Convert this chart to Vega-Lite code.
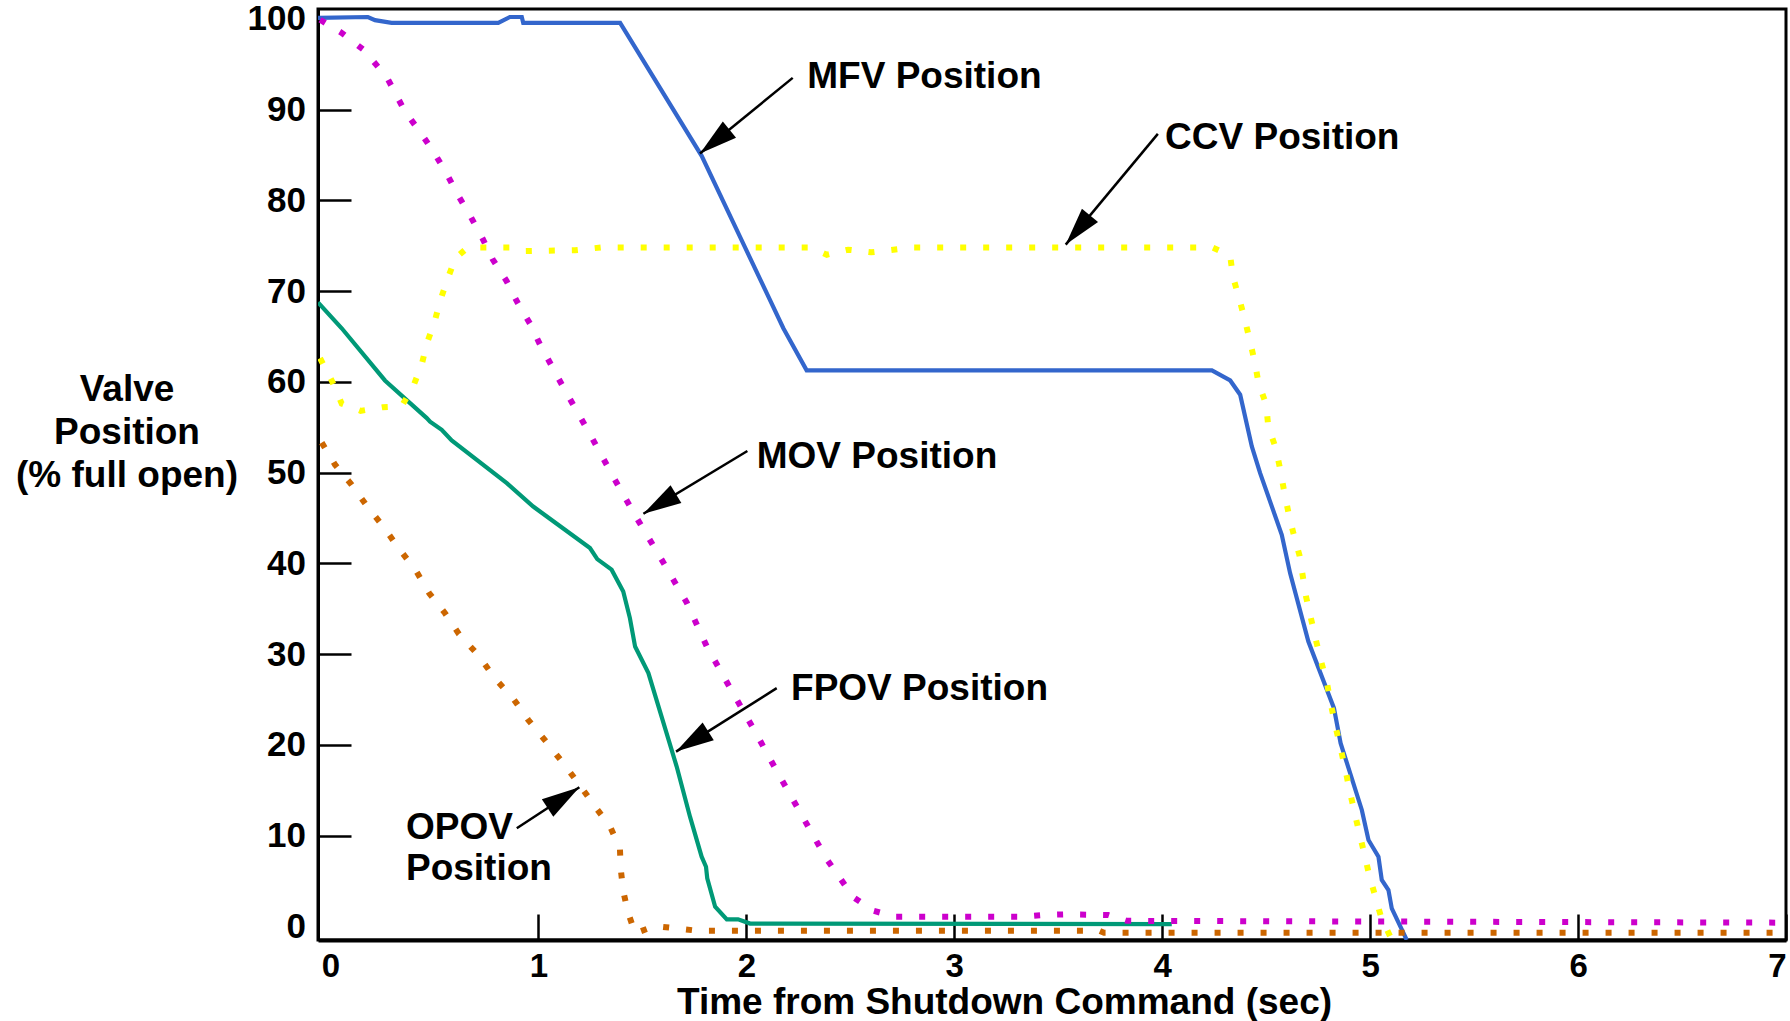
{
  "$schema": "https://vega.github.io/schema/vega-lite/v6.json",
  "width": 1468,
  "height": 931,
  "autosize": {"type": "none"},
  "padding": {"left": 318, "top": 9, "right": 4, "bottom": 81},
  "background": "white",
  "config": {
    "view": {"stroke": "black", "strokeWidth": 3},
    "font": "Liberation Sans"
  },
  "datasets": {
    "valves": [
      {"valve": "MFV", "t": -0.06, "v": 100.1},
      {"valve": "MFV", "t": 0.18, "v": 100.2},
      {"valve": "MFV", "t": 0.214, "v": 99.85},
      {"valve": "MFV", "t": 0.294, "v": 99.56},
      {"valve": "MFV", "t": 0.807, "v": 99.56},
      {"valve": "MFV", "t": 0.863, "v": 100.2},
      {"valve": "MFV", "t": 0.92, "v": 100.2},
      {"valve": "MFV", "t": 0.927, "v": 99.56},
      {"valve": "MFV", "t": 1.393, "v": 99.56},
      {"valve": "MFV", "t": 1.785, "v": 84.9},
      {"valve": "MFV", "t": 1.996, "v": 74.7},
      {"valve": "MFV", "t": 2.178, "v": 65.9},
      {"valve": "MFV", "t": 2.29, "v": 61.26},
      {"valve": "MFV", "t": 4.239, "v": 61.26},
      {"valve": "MFV", "t": 4.327, "v": 60.15},
      {"valve": "MFV", "t": 4.375, "v": 58.58},
      {"valve": "MFV", "t": 4.431, "v": 52.88},
      {"valve": "MFV", "t": 4.471, "v": 49.94},
      {"valve": "MFV", "t": 4.575, "v": 43.14},
      {"valve": "MFV", "t": 4.615, "v": 38.92},
      {"valve": "MFV", "t": 4.703, "v": 31.38},
      {"valve": "MFV", "t": 4.826, "v": 24.04},
      {"valve": "MFV", "t": 4.858, "v": 20.18},
      {"valve": "MFV", "t": 4.96, "v": 12.82},
      {"valve": "MFV", "t": 4.992, "v": 9.51},
      {"valve": "MFV", "t": 5.04, "v": 7.67},
      {"valve": "MFV", "t": 5.056, "v": 5.1},
      {"valve": "MFV", "t": 5.088, "v": 4.0},
      {"valve": "MFV", "t": 5.104, "v": 1.98},
      {"valve": "MFV", "t": 5.176, "v": -1.5},

      {"valve": "FPOV", "t": -0.06, "v": 68.75},
      {"valve": "FPOV", "t": 0.054, "v": 65.9},
      {"valve": "FPOV", "t": 0.262, "v": 60.15},
      {"valve": "FPOV", "t": 0.463, "v": 56.0},
      {"valve": "FPOV", "t": 0.479, "v": 55.6},
      {"valve": "FPOV", "t": 0.535, "v": 54.7},
      {"valve": "FPOV", "t": 0.583, "v": 53.54},
      {"valve": "FPOV", "t": 0.848, "v": 48.84},
      {"valve": "FPOV", "t": 0.975, "v": 46.26},
      {"valve": "FPOV", "t": 1.248, "v": 41.68},
      {"valve": "FPOV", "t": 1.283, "v": 40.46},
      {"valve": "FPOV", "t": 1.352, "v": 39.3},
      {"valve": "FPOV", "t": 1.408, "v": 36.9},
      {"valve": "FPOV", "t": 1.44, "v": 33.96},
      {"valve": "FPOV", "t": 1.465, "v": 30.83},
      {"valve": "FPOV", "t": 1.529, "v": 27.9},
      {"valve": "FPOV", "t": 1.665, "v": 17.6},
      {"valve": "FPOV", "t": 1.729, "v": 12.08},
      {"valve": "FPOV", "t": 1.785, "v": 7.67},
      {"valve": "FPOV", "t": 1.806, "v": 6.57},
      {"valve": "FPOV", "t": 1.812, "v": 5.29},
      {"valve": "FPOV", "t": 1.85, "v": 2.16},
      {"valve": "FPOV", "t": 1.906, "v": 0.77},
      {"valve": "FPOV", "t": 1.96, "v": 0.77},
      {"valve": "FPOV", "t": 2.018, "v": 0.3},
      {"valve": "FPOV", "t": 4.046, "v": 0.25},

      {"valve": "MOV", "t": -0.05, "v": 99.9},
      {"valve": "MOV", "t": 0.054, "v": 98.45},
      {"valve": "MOV", "t": 0.158, "v": 96.6},
      {"valve": "MOV", "t": 0.27, "v": 93.6},
      {"valve": "MOV", "t": 0.358, "v": 89.8},
      {"valve": "MOV", "t": 0.435, "v": 87.4},
      {"valve": "MOV", "t": 0.5, "v": 85.2},
      {"valve": "MOV", "t": 0.562, "v": 82.8},
      {"valve": "MOV", "t": 0.615, "v": 80.5},
      {"valve": "MOV", "t": 0.674, "v": 78.2},
      {"valve": "MOV", "t": 0.73, "v": 75.85},
      {"valve": "MOV", "t": 0.78, "v": 73.5},
      {"valve": "MOV", "t": 0.847, "v": 71.1},
      {"valve": "MOV", "t": 0.899, "v": 68.75},
      {"valve": "MOV", "t": 0.96, "v": 66.4},
      {"valve": "MOV", "t": 1.008, "v": 64.1},
      {"valve": "MOV", "t": 1.128, "v": 59.05},
      {"valve": "MOV", "t": 1.245, "v": 54.35},
      {"valve": "MOV", "t": 1.357, "v": 49.65},
      {"valve": "MOV", "t": 1.473, "v": 44.98},
      {"valve": "MOV", "t": 1.598, "v": 40.2},
      {"valve": "MOV", "t": 1.713, "v": 35.68},
      {"valve": "MOV", "t": 1.81, "v": 30.83},
      {"valve": "MOV", "t": 1.925, "v": 26.13},
      {"valve": "MOV", "t": 2.042, "v": 21.46},
      {"valve": "MOV", "t": 2.154, "v": 16.79},
      {"valve": "MOV", "t": 2.271, "v": 12.05},
      {"valve": "MOV", "t": 2.385, "v": 7.45},
      {"valve": "MOV", "t": 2.515, "v": 3.2},
      {"valve": "MOV", "t": 2.61, "v": 1.72},
      {"valve": "MOV", "t": 2.715, "v": 1.06},
      {"valve": "MOV", "t": 3.33, "v": 1.06},
      {"valve": "MOV", "t": 3.43, "v": 1.25},
      {"valve": "MOV", "t": 3.533, "v": 1.32},
      {"valve": "MOV", "t": 3.74, "v": 1.25},
      {"valve": "MOV", "t": 3.83, "v": 0.6},
      {"valve": "MOV", "t": 7.0, "v": 0.4},

      {"valve": "CCV", "t": -0.05, "v": 62.6},
      {"valve": "CCV", "t": 0.006, "v": 60.15},
      {"valve": "CCV", "t": 0.054, "v": 57.6},
      {"valve": "CCV", "t": 0.145, "v": 56.8},
      {"valve": "CCV", "t": 0.251, "v": 57.2},
      {"valve": "CCV", "t": 0.342, "v": 57.3},
      {"valve": "CCV", "t": 0.398, "v": 59.5},
      {"valve": "CCV", "t": 0.439, "v": 61.9},
      {"valve": "CCV", "t": 0.463, "v": 64.2},
      {"valve": "CCV", "t": 0.5, "v": 66.55},
      {"valve": "CCV", "t": 0.527, "v": 68.9},
      {"valve": "CCV", "t": 0.562, "v": 71.25},
      {"valve": "CCV", "t": 0.6, "v": 73.6},
      {"valve": "CCV", "t": 0.66, "v": 74.8},
      {"valve": "CCV", "t": 0.867, "v": 74.8},
      {"valve": "CCV", "t": 0.93, "v": 74.4},
      {"valve": "CCV", "t": 1.176, "v": 74.5},
      {"valve": "CCV", "t": 1.3, "v": 74.8},
      {"valve": "CCV", "t": 2.306, "v": 74.8},
      {"valve": "CCV", "t": 2.387, "v": 74.0},
      {"valve": "CCV", "t": 2.49, "v": 74.56},
      {"valve": "CCV", "t": 2.6, "v": 74.27},
      {"valve": "CCV", "t": 2.8, "v": 74.8},
      {"valve": "CCV", "t": 4.241, "v": 74.8},
      {"valve": "CCV", "t": 4.327, "v": 73.9},
      {"valve": "CCV", "t": 4.34, "v": 71.6},
      {"valve": "CCV", "t": 4.37, "v": 69.2},
      {"valve": "CCV", "t": 4.398, "v": 66.8},
      {"valve": "CCV", "t": 4.422, "v": 64.5},
      {"valve": "CCV", "t": 4.446, "v": 62.1},
      {"valve": "CCV", "t": 4.463, "v": 59.9},
      {"valve": "CCV", "t": 4.5, "v": 57.5},
      {"valve": "CCV", "t": 4.51, "v": 55.1},
      {"valve": "CCV", "t": 4.546, "v": 52.7},
      {"valve": "CCV", "t": 4.567, "v": 50.4},
      {"valve": "CCV", "t": 4.586, "v": 48.0},
      {"valve": "CCV", "t": 4.607, "v": 45.6},
      {"valve": "CCV", "t": 4.631, "v": 43.3},
      {"valve": "CCV", "t": 4.66, "v": 40.9},
      {"valve": "CCV", "t": 4.676, "v": 38.6},
      {"valve": "CCV", "t": 4.692, "v": 36.3},
      {"valve": "CCV", "t": 4.715, "v": 33.96},
      {"valve": "CCV", "t": 4.739, "v": 31.57},
      {"valve": "CCV", "t": 4.763, "v": 29.3},
      {"valve": "CCV", "t": 4.792, "v": 26.86},
      {"valve": "CCV", "t": 4.811, "v": 24.5},
      {"valve": "CCV", "t": 4.832, "v": 22.2},
      {"valve": "CCV", "t": 4.856, "v": 19.8},
      {"valve": "CCV", "t": 4.88, "v": 17.4},
      {"valve": "CCV", "t": 4.9, "v": 15.1},
      {"valve": "CCV", "t": 4.923, "v": 12.75},
      {"valve": "CCV", "t": 4.947, "v": 10.36},
      {"valve": "CCV", "t": 4.971, "v": 8.1},
      {"valve": "CCV", "t": 4.995, "v": 5.7},
      {"valve": "CCV", "t": 5.024, "v": 3.34},
      {"valve": "CCV", "t": 5.053, "v": 0.99},
      {"valve": "CCV", "t": 5.1, "v": -1.3},

      {"valve": "OPOV", "t": -0.042, "v": 53.3},
      {"valve": "OPOV", "t": 0.022, "v": 50.86},
      {"valve": "OPOV", "t": 0.102, "v": 48.65},
      {"valve": "OPOV", "t": 0.177, "v": 46.26},
      {"valve": "OPOV", "t": 0.257, "v": 43.95},
      {"valve": "OPOV", "t": 0.331, "v": 41.57},
      {"valve": "OPOV", "t": 0.411, "v": 39.2},
      {"valve": "OPOV", "t": 0.475, "v": 36.7},
      {"valve": "OPOV", "t": 0.551, "v": 34.5},
      {"valve": "OPOV", "t": 0.618, "v": 32.2},
      {"valve": "OPOV", "t": 0.714, "v": 29.8},
      {"valve": "OPOV", "t": 0.788, "v": 27.4},
      {"valve": "OPOV", "t": 0.88, "v": 25.06},
      {"valve": "OPOV", "t": 0.951, "v": 22.75},
      {"valve": "OPOV", "t": 1.037, "v": 20.35},
      {"valve": "OPOV", "t": 1.117, "v": 18.04},
      {"valve": "OPOV", "t": 1.192, "v": 15.77},
      {"valve": "OPOV", "t": 1.269, "v": 13.3},
      {"valve": "OPOV", "t": 1.345, "v": 10.98},
      {"valve": "OPOV", "t": 1.392, "v": 8.6},
      {"valve": "OPOV", "t": 1.396, "v": 6.3},
      {"valve": "OPOV", "t": 1.408, "v": 3.9},
      {"valve": "OPOV", "t": 1.43, "v": 1.6},
      {"valve": "OPOV", "t": 1.465, "v": -0.77},
      {"valve": "OPOV", "t": 1.56, "v": 0.03},
      {"valve": "OPOV", "t": 1.662, "v": -0.22},
      {"valve": "OPOV", "t": 1.761, "v": -0.48},
      {"valve": "OPOV", "t": 3.7, "v": -0.5},
      {"valve": "OPOV", "t": 3.72, "v": -0.7},
      {"valve": "OPOV", "t": 7.0, "v": -0.7}
    ],
    "arrows": [
      {"name": "MFV", "t": 2.223, "v": 93.49, "t2": 1.777, "v2": 85.15},
      {"name": "CCV", "t": 3.979, "v": 87.32, "t2": 3.536, "v2": 75.12},
      {"name": "MOV", "t": 2.005, "v": 52.37, "t2": 1.505, "v2": 45.46},
      {"name": "FPOV", "t": 2.146, "v": 26.24, "t2": 1.662, "v2": 19.25},
      {"name": "OPOV", "t": 0.896, "v": 10.8, "t2": 1.197, "v2": 15.33}
    ],
    "labels": [
      {"label": "MFV Position", "t": 2.293, "v": 92.39},
      {"label": "CCV Position", "t": 4.014, "v": 85.7},
      {"label": "MOV Position", "t": 2.05, "v": 50.5},
      {"label": "FPOV Position", "t": 2.215, "v": 24.95},
      {"label": "OPOV", "t": 0.363, "v": 9.59},
      {"label": "Position", "t": 0.363, "v": 5.1}
    ]
  },
  "layer": [
    {
      "data": {"name": "valves"},
      "transform": [{"filter": {"field": "valve", "oneOf": ["MFV", "FPOV"]}}],
      "mark": {"type": "line", "strokeWidth": 4.2, "clip": true},
      "encoding": {
        "x": {
          "field": "t", "type": "quantitative",
          "scale": {"domain": [-0.06, 7], "nice": false, "zero": false},
          "axis": {
            "title": "Time from Shutdown Command (sec)",
            "values": [0, 1, 2, 3, 4, 5, 6, 7],
            "format": "d",
            "grid": false,
            "domain": true, "domainColor": "black", "domainWidth": 4,
            "tickSize": -26, "tickWidth": 2.5,
            "tickColor": {"condition": {"test": "datum.value === 0", "value": "transparent"}, "value": "black"},
            "labelFont": "Liberation Sans", "labelFontSize": 33, "labelFontWeight": "bold", "labelColor": "black",
            "labelPadding": 36, "labelFlush": 5, "labelOverlap": false, "labelBound": false,
            "titleFont": "Liberation Sans", "titleFontSize": 37, "titleFontWeight": "bold", "titleColor": "black",
            "titleX": 686, "titleY": 73, "titleAlign": "center", "titleBaseline": "alphabetic"
          }
        },
        "y": {
          "field": "v", "type": "quantitative",
          "scale": {"domain": [-1.51, 101.08], "nice": false, "zero": false},
          "axis": {
            "title": ["Valve", "Position", "(% full open)"],
            "values": [0, 10, 20, 30, 40, 50, 60, 70, 80, 90, 100],
            "grid": false,
            "domain": true, "domainColor": "black", "domainWidth": 3,
            "tickSize": -33, "tickWidth": 2.5,
            "tickColor": {"condition": {"test": "datum.value === 0 || datum.value === 100", "value": "transparent"}, "value": "black"},
            "labelFont": "Liberation Sans", "labelFontSize": 35, "labelFontWeight": "bold", "labelColor": "black",
            "labelPadding": 45.5, "labelFlush": false, "labelOverlap": false, "labelBound": false,
            "titleFont": "Liberation Sans", "titleFontSize": 37, "titleFontWeight": "bold", "titleColor": "black",
            "titleAngle": 0, "titleX": -191.5, "titleY": 362, "titleAlign": "center", "titleBaseline": "top",
            "titleLineHeight": 43
          }
        },
        "color": {
          "field": "valve", "type": "nominal",
          "scale": {"domain": ["MFV", "FPOV", "MOV", "CCV", "OPOV"], "range": ["#3366cc", "#009977", "#cc00cc", "#ffff00", "#cc6600"]},
          "legend": null
        }
      }
    },
    {
      "data": {"name": "valves"},
      "transform": [{"filter": {"field": "valve", "oneOf": ["MOV", "CCV", "OPOV"]}}],
      "mark": {"type": "line", "strokeWidth": 6, "strokeDash": [6, 17], "strokeCap": "butt", "clip": true},
      "encoding": {
        "x": {"field": "t", "type": "quantitative"},
        "y": {"field": "v", "type": "quantitative"},
        "color": {"field": "valve", "type": "nominal", "legend": null}
      }
    },
    {
      "data": {"name": "arrows"},
      "mark": {"type": "rule", "color": "black", "strokeWidth": 2.5},
      "encoding": {
        "x": {"field": "t", "type": "quantitative"},
        "y": {"field": "v", "type": "quantitative"},
        "x2": {"field": "t2"},
        "y2": {"field": "v2"}
      }
    },
    {
      "data": {"name": "arrows"},
      "transform": [{"filter": "datum.name === 'MFV'"}],
      "mark": {"type": "point", "shape": "M0,0L0.55,2L-0.55,2Z", "size": 1444, "filled": true, "color": "black", "opacity": 1, "angle": 230.8},
      "encoding": {"x": {"field": "t2", "type": "quantitative"}, "y": {"field": "v2", "type": "quantitative"}}
    },
    {
      "data": {"name": "arrows"},
      "transform": [{"filter": "datum.name === 'CCV'"}],
      "mark": {"type": "point", "shape": "M0,0L0.55,2L-0.55,2Z", "size": 1444, "filled": true, "color": "black", "opacity": 1, "angle": 219.7},
      "encoding": {"x": {"field": "t2", "type": "quantitative"}, "y": {"field": "v2", "type": "quantitative"}}
    },
    {
      "data": {"name": "arrows"},
      "transform": [{"filter": "datum.name === 'MOV'"}],
      "mark": {"type": "point", "shape": "M0,0L0.55,2L-0.55,2Z", "size": 1444, "filled": true, "color": "black", "opacity": 1, "angle": 238.9},
      "encoding": {"x": {"field": "t2", "type": "quantitative"}, "y": {"field": "v2", "type": "quantitative"}}
    },
    {
      "data": {"name": "arrows"},
      "transform": [{"filter": "datum.name === 'FPOV'"}],
      "mark": {"type": "point", "shape": "M0,0L0.55,2L-0.55,2Z", "size": 1444, "filled": true, "color": "black", "opacity": 1, "angle": 237.8},
      "encoding": {"x": {"field": "t2", "type": "quantitative"}, "y": {"field": "v2", "type": "quantitative"}}
    },
    {
      "data": {"name": "arrows"},
      "transform": [{"filter": "datum.name === 'OPOV'"}],
      "mark": {"type": "point", "shape": "M0,0L0.55,2L-0.55,2Z", "size": 1444, "filled": true, "color": "black", "opacity": 1, "angle": 56.8},
      "encoding": {"x": {"field": "t2", "type": "quantitative"}, "y": {"field": "v2", "type": "quantitative"}}
    },
    {
      "data": {"name": "labels"},
      "mark": {"type": "text", "align": "left", "baseline": "alphabetic", "font": "Liberation Sans", "fontSize": 37, "fontWeight": "bold", "color": "black"},
      "encoding": {
        "x": {"field": "t", "type": "quantitative"},
        "y": {"field": "v", "type": "quantitative"},
        "text": {"field": "label"}
      }
    }
  ]
}
